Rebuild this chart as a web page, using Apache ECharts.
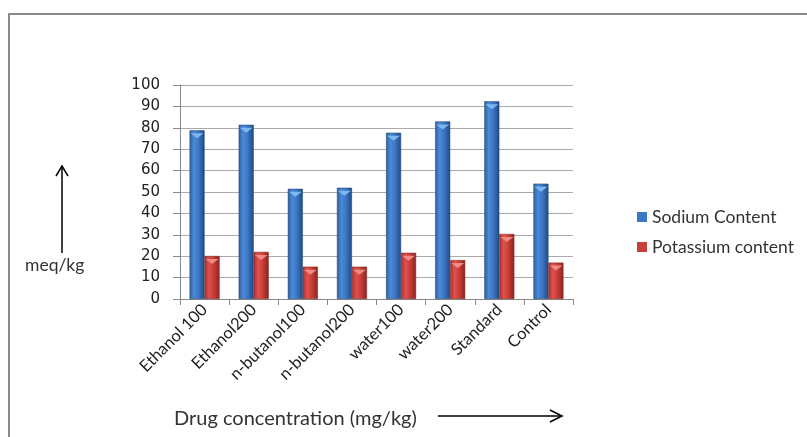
<!DOCTYPE html>
<html>
<head>
<meta charset="utf-8">
<script src="https://cdn.jsdelivr.net/npm/echarts@6/dist/echarts.min.js"></script>
<style>html,body{margin:0;padding:0;background:#fff}#c{width:807px;height:437px}</style>
</head>
<body>
<div id="c"></div>
<script>
const categories = ['Ethanol 100','Ethanol200','n-butanol100','n-butanol200','water100','water200','Standard','Control'];
const sodium = [78.8, 81.4, 51.5, 52.0, 77.7, 83.0, 92.4, 53.9];
const potassium = [20.1, 22.0, 15.1, 15.1, 21.6, 18.2, 30.4, 17.0];
const seriesNames = ['Sodium Content', 'Potassium content'];

const chart = echarts.init(document.getElementById('c'), null, {renderer: 'canvas'});
const lg = (a, b, c, d) => new echarts.graphic.LinearGradient(0, 0, 1, 0, [
  {offset: 0, color: a}, {offset: 0.3, color: b}, {offset: 0.6, color: c}, {offset: 1, color: d}
]);
const blueFill = lg('#2d5f9e', '#4a8ad8', '#3a76c4', '#1f4a82');
const redFill = lg('#a8302c', '#e0524c', '#c83d38', '#8a2420');
const textFont = 'Lato, "Open Sans", sans-serif';

chart.setOption({
  animation: false,
  grid: {left: 180, right: 234, top: 85, bottom: 138},
  legend: {
    orient: 'vertical', left: 632, top: 203,
    itemWidth: 10, itemHeight: 10, itemGap: 12,
    data: [
      {name: seriesNames[0], icon: 'rect', itemStyle: {color: '#3d78c6', borderWidth: 0}},
      {name: seriesNames[1], icon: 'rect', itemStyle: {color: '#c63f3a', borderWidth: 0}}
    ],
    textStyle: {fontFamily: textFont, fontSize: 17.5, color: '#333'}
  },
  xAxis: {
    type: 'category', data: categories,
    axisLine: {lineStyle: {color: '#888', width: 1}},
    axisTick: {show: true, length: 6, lineStyle: {color: '#888'}},
    axisLabel: {rotate: 45, margin: 8, fontFamily: textFont, fontSize: 16.5, color: '#222', interval: 0}
  },
  yAxis: {
    type: 'value', min: 0, max: 100, interval: 10,
    axisLine: {show: true, lineStyle: {color: '#888', width: 1}},
    axisTick: {show: true, length: 7, lineStyle: {color: '#888'}},
    axisLabel: {margin: 20, fontFamily: '"DejaVu Sans", sans-serif', fontSize: 15, color: '#222'},
    splitLine: {lineStyle: {color: '#aaa', width: 1}}
  },
  series: [
    {name: seriesNames[0], type: 'bar', data: sodium, barWidth: 15, barGap: '0%',
     itemStyle: {color: blueFill, borderColor: '#1d3f70', borderWidth: 0.5}},
    {name: seriesNames[1], type: 'bar', data: potassium, barWidth: 15, barGap: '0%',
     itemStyle: {color: redFill, borderColor: '#7a1e1b', borderWidth: 0.5}},
    {name: 'capS', type: 'pictorialBar', data: sodium, symbol: 'triangle', symbolRotate: 180,
     symbolSize: [13, 5], symbolPosition: 'end', symbolOffset: [-7.5, 3], z: 5,
     itemStyle: {color: '#7fb6f0'}, legendHoverLink: false, tooltip: {show: false}},
    {name: 'capP', type: 'pictorialBar', data: potassium, symbol: 'triangle', symbolRotate: 180,
     symbolSize: [13, 5], symbolPosition: 'end', symbolOffset: [7.5, 3], z: 5,
     itemStyle: {color: '#f08a84'}, legendHoverLink: false, tooltip: {show: false}}
  ],
  graphic: [
    {type: 'polyline', shape: {points: [[9, 437], [9, 14], [807, 14]]}, style: {stroke: '#8a8a8a', lineWidth: 2, fill: null}},
    {type: 'line', shape: {x1: 62, y1: 253, x2: 62, y2: 166}, style: {stroke: '#000', lineWidth: 1.5}},
    {type: 'polyline', shape: {points: [[56, 176], [62, 166], [68, 176]]}, style: {stroke: '#000', lineWidth: 1.5, fill: null}},
    {type: 'text', left: 25, top: 256, style: {text: 'meq/kg', font: '17.5px ' + textFont, fill: '#333'}},
    {type: 'text', left: 174, top: 409, style: {text: 'Drug concentration (mg/kg)', font: '20px ' + textFont, fill: '#333'}},
    {type: 'line', shape: {x1: 438, y1: 416, x2: 562, y2: 416}, style: {stroke: '#000', lineWidth: 1.5}},
    {type: 'polyline', shape: {points: [[550, 410], [562, 416], [550, 422]]}, style: {stroke: '#000', lineWidth: 1.5, fill: null}}
  ]
});
</script>
</body>
</html>
